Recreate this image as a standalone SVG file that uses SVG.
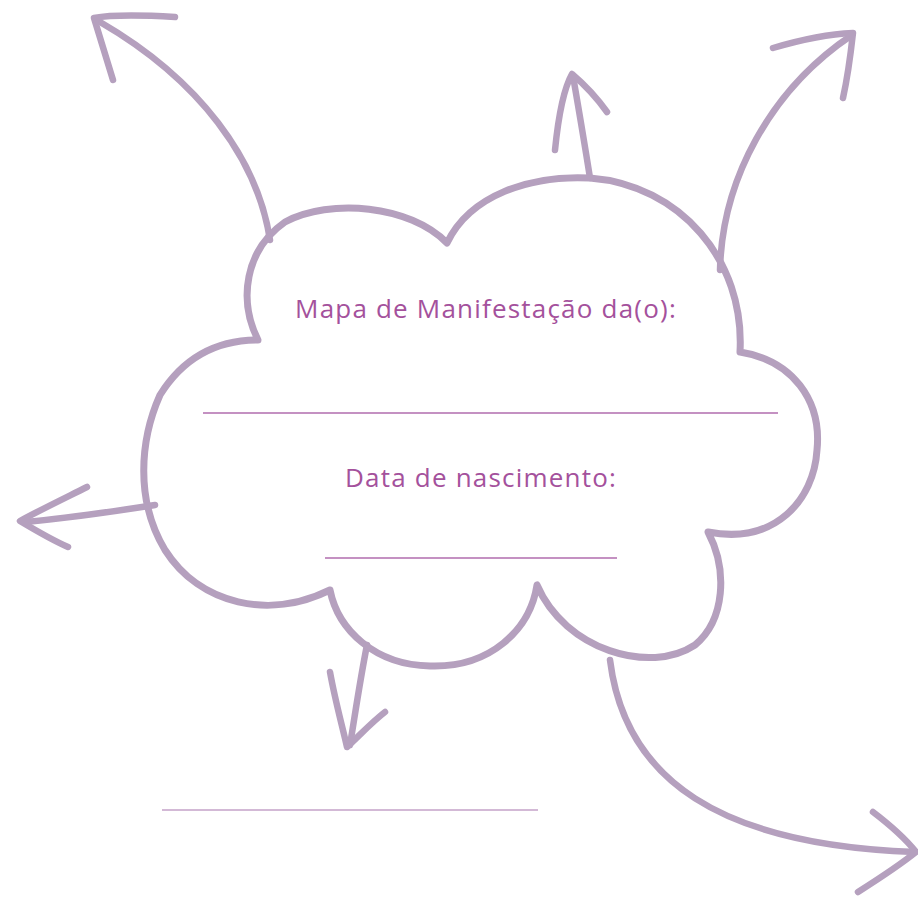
<svg xmlns="http://www.w3.org/2000/svg" width="918" height="898" viewBox="0 0 918 898">
<style>
.c{fill:none;stroke:#b5a0be;stroke-width:7;stroke-linecap:round;stroke-linejoin:round}
.a{fill:none;stroke:#b5a0be;stroke-width:6.5;stroke-linecap:round;stroke-linejoin:round}
.t{font-family:"Open Sans","Lato",sans-serif;font-size:26px;letter-spacing:1.2px;fill:#a4519c}
.l{stroke:#b06cae;stroke-width:1.5}
.l2{stroke:#c4a2c8;stroke-width:1.5}
</style>
<rect width="918" height="898" fill="#fff"/>
<g id="connectors">
<path class="a" d="M270,240 C258,160 200,80 100,22"/>
<path class="a" d="M175,17 C140,15 110,15 94,18 L113,80"/>
<path class="a" d="M590,178 C584,140 578,105 573,76"/>
<path class="a" d="M555,150 C558,120 563,90 572,74 C585,85 597,98 607,112"/>
<path class="a" d="M720,270 C722,180 770,90 852,35"/>
<path class="a" d="M773,48 C800,40 830,34 853,33 C850,60 847,80 843,98"/>
<path class="a" d="M155,505 C110,512 70,518 25,522"/>
<path class="a" d="M87,487 C65,498 40,510 20,521 C35,530 52,540 68,547"/>
<path class="a" d="M367,645 C360,680 355,715 350,745"/>
<path class="a" d="M330,672 C335,700 342,725 347,747 C360,735 372,722 385,712"/>
<path class="a" d="M610,660 C625,780 720,845 915,852"/>
<path class="a" d="M873,812 C890,825 905,838 916,852 C900,865 880,878 858,892"/>
</g>
<g id="cloud">
<path class="c" d="M258,340 C238,300 245,250 285,222 C330,198 410,205 447,243 C470,195 530,175 590,178 C680,185 745,260 740,352 C792,360 822,400 817,450 C814,500 775,545 708,532 C728,570 725,620 695,645 C650,675 565,650 537,585 C530,630 490,668 430,666 C375,665 338,630 330,590 C270,620 200,605 165,550 C135,500 140,440 160,395 C185,355 220,340 258,340 Z"/>
</g>
<g id="title">
<text class="t" x="486" y="318" text-anchor="middle">Mapa de Manifestação da(o):</text>
<line class="l" x1="203" y1="413" x2="778" y2="413"/>
</g>
<g id="birth">
<text class="t" x="481" y="487" text-anchor="middle">Data de nascimento:</text>
<line class="l" x1="325" y1="558" x2="617" y2="558"/>
</g>
<g id="bottomline">
<line class="l2" x1="162" y1="810" x2="538" y2="810"/>
</g>
</svg>
